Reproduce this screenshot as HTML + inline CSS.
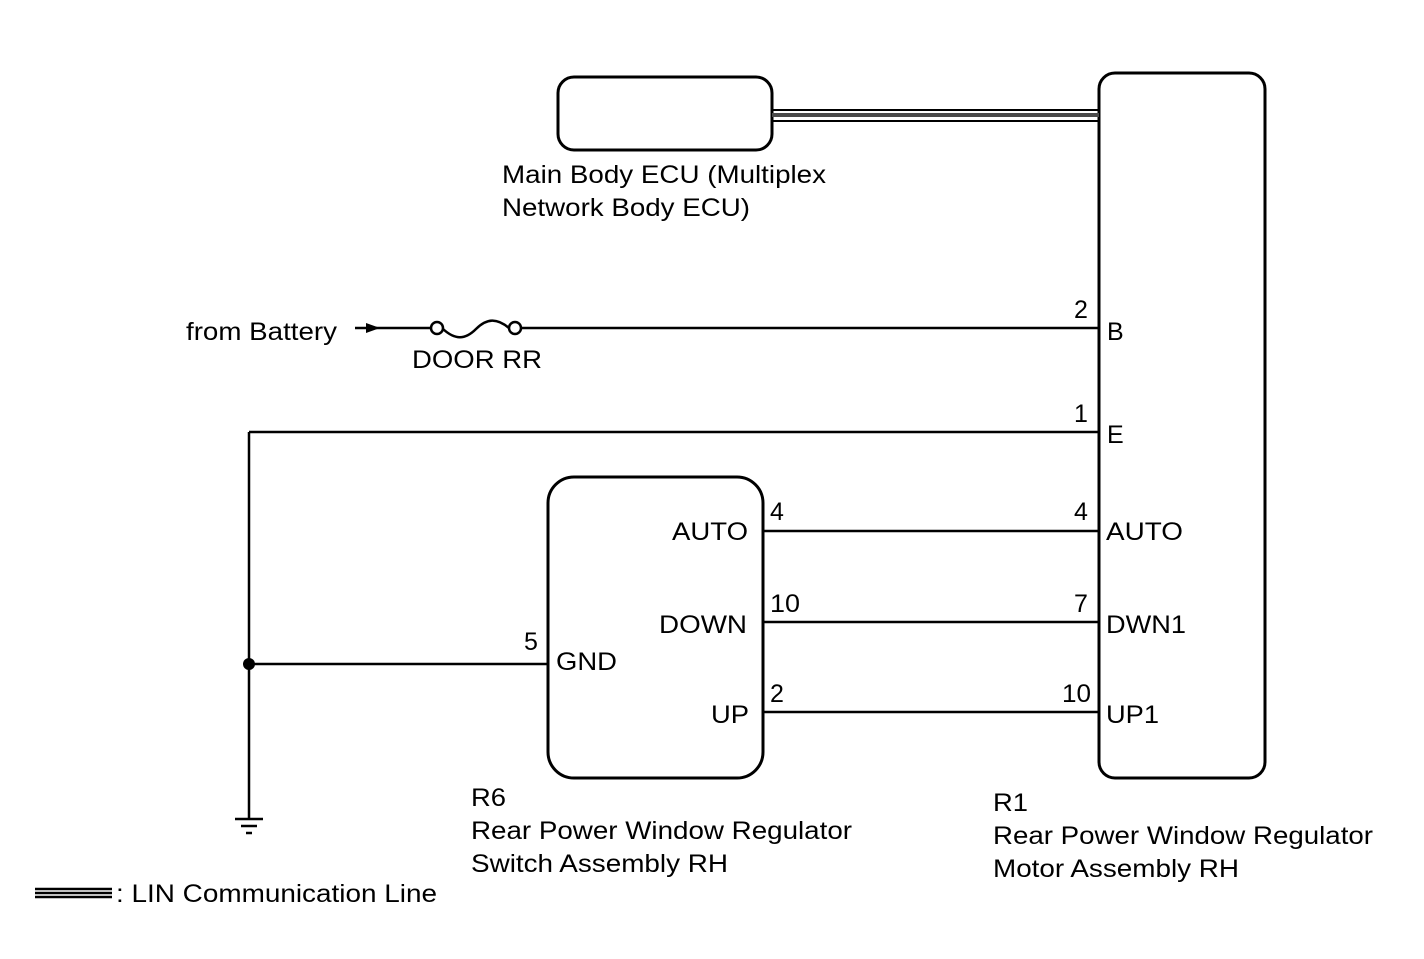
<!DOCTYPE html>
<html><head><meta charset="utf-8"><style>
html,body{margin:0;padding:0;background:#fff;}
svg{display:block;}
text{font-family:"Liberation Sans",Arial,Helvetica,sans-serif;font-size:25px;fill:#000;}
</style></head><body>
<svg width="1424" height="959" viewBox="0 0 1424 959" xmlns="http://www.w3.org/2000/svg">
<g fill="none" stroke="#000" stroke-width="3">
<rect x="558" y="77" width="214" height="73" rx="16"/>
<rect x="1099" y="73" width="166" height="705" rx="16"/>
<rect x="548" y="477" width="215" height="301" rx="26"/>
</g>
<rect x="772" y="109" width="327" height="2" fill="#000"/>
<rect x="772" y="113" width="327" height="4" fill="#4a4a4a"/>
<rect x="772" y="120" width="327" height="2" fill="#000"/>
<g stroke="#000" stroke-width="2.5" fill="none">
<line x1="355" y1="328" x2="431" y2="328"/>
<circle cx="437" cy="328" r="6" fill="#fff"/>
<path d="M443 329 C455 340,465 340,476 329 C487 318,497 318,509 328"/>
<circle cx="515" cy="328" r="6" fill="#fff"/>
<line x1="521" y1="328" x2="1099" y2="328"/>
<line x1="249" y1="432" x2="1099" y2="432"/>
<line x1="249" y1="432" x2="249" y2="819"/>
<line x1="249" y1="664" x2="548" y2="664"/>
<line x1="763" y1="531" x2="1099" y2="531"/>
<line x1="763" y1="622" x2="1099" y2="622"/>
<line x1="763" y1="712" x2="1099" y2="712"/>
<line x1="235" y1="819" x2="263" y2="819"/>
<line x1="241" y1="826" x2="257" y2="826"/>
<line x1="246" y1="833" x2="252" y2="833"/>
<line x1="35" y1="889" x2="112" y2="889"/>
<line x1="35" y1="893" x2="112" y2="893"/>
<line x1="35" y1="897" x2="112" y2="897"/>
</g>
<polygon points="366,323 380,328 366,333" fill="#000"/>
<circle cx="249" cy="664" r="6" fill="#000"/>
<g lengthAdjust="spacingAndGlyphs">
<text x="502" y="183" textLength="324" lengthAdjust="spacingAndGlyphs">Main Body ECU (Multiplex</text>
<text x="502" y="216" textLength="248" lengthAdjust="spacingAndGlyphs">Network Body ECU)</text>
<text x="186" y="340" textLength="151" lengthAdjust="spacingAndGlyphs">from Battery</text>
<text x="412" y="368" textLength="130" lengthAdjust="spacingAndGlyphs">DOOR RR</text>
<text x="1074" y="318">2</text>
<text x="1107" y="340">B</text>
<text x="1074" y="422">1</text>
<text x="1107" y="443">E</text>
<text x="1074" y="520">4</text>
<text x="1106" y="540" textLength="77" lengthAdjust="spacingAndGlyphs">AUTO</text>
<text x="1074" y="612">7</text>
<text x="1106" y="633" textLength="80" lengthAdjust="spacingAndGlyphs">DWN1</text>
<text x="1062" y="702" textLength="29" lengthAdjust="spacingAndGlyphs">10</text>
<text x="1106" y="723" textLength="53" lengthAdjust="spacingAndGlyphs">UP1</text>
<text x="770" y="520">4</text>
<text x="672" y="540" textLength="76" lengthAdjust="spacingAndGlyphs">AUTO</text>
<text x="770" y="612" textLength="30" lengthAdjust="spacingAndGlyphs">10</text>
<text x="659" y="633" textLength="88" lengthAdjust="spacingAndGlyphs">DOWN</text>
<text x="770" y="702">2</text>
<text x="711" y="723" textLength="38" lengthAdjust="spacingAndGlyphs">UP</text>
<text x="524" y="650">5</text>
<text x="556" y="670" textLength="61" lengthAdjust="spacingAndGlyphs">GND</text>
<text x="471" y="806" textLength="35" lengthAdjust="spacingAndGlyphs">R6</text>
<text x="471" y="839" textLength="381" lengthAdjust="spacingAndGlyphs">Rear Power Window Regulator</text>
<text x="471" y="872" textLength="257" lengthAdjust="spacingAndGlyphs">Switch Assembly RH</text>
<text x="993" y="811" textLength="35" lengthAdjust="spacingAndGlyphs">R1</text>
<text x="993" y="844" textLength="380" lengthAdjust="spacingAndGlyphs">Rear Power Window Regulator</text>
<text x="993" y="877" textLength="246" lengthAdjust="spacingAndGlyphs">Motor Assembly RH</text>
<text x="116" y="902" textLength="321" lengthAdjust="spacingAndGlyphs">: LIN Communication Line</text>
</g>
</svg>
</body></html>
